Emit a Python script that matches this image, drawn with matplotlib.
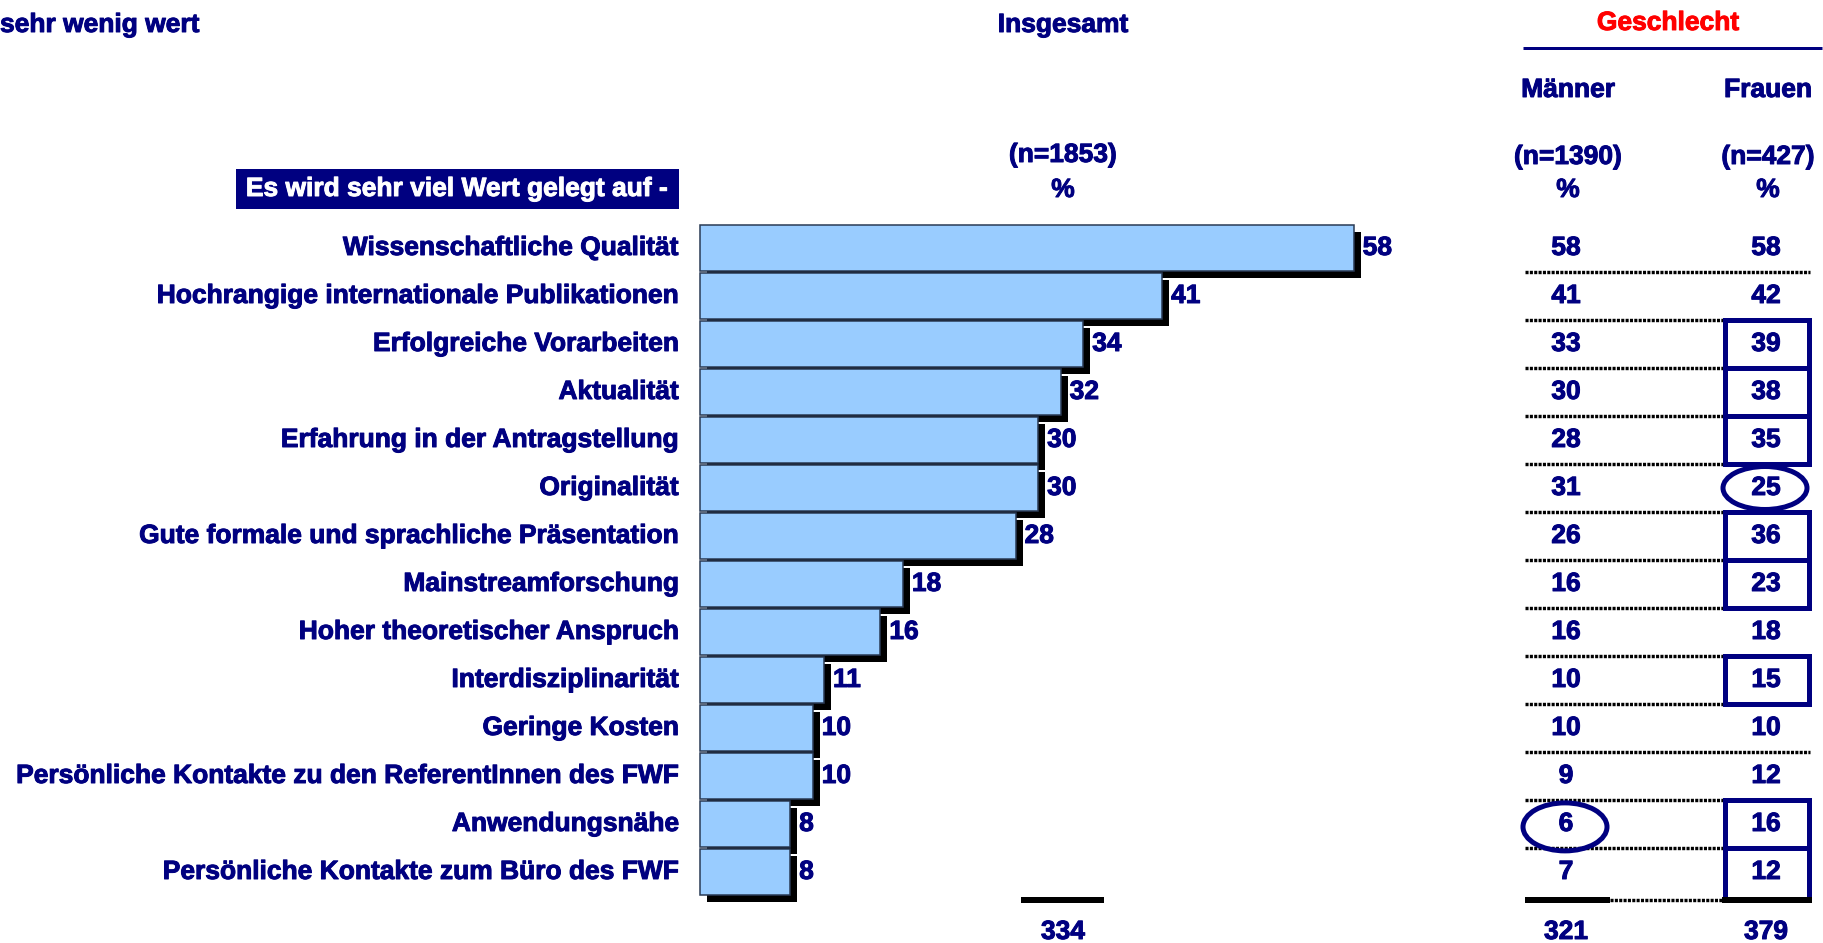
import matplotlib
matplotlib.use("Agg")
import matplotlib.pyplot as plt
from matplotlib.patches import Rectangle, Ellipse
from matplotlib.transforms import offset_copy
import matplotlib.patheffects as pe

# ---------------- data ----------------
categories = [
    "Wissenschaftliche Qualität",
    "Hochrangige internationale Publikationen",
    "Erfolgreiche Vorarbeiten",
    "Aktualität",
    "Erfahrung in der Antragstellung",
    "Originalität",
    "Gute formale und sprachliche Präsentation",
    "Mainstreamforschung",
    "Hoher theoretischer Anspruch",
    "Interdisziplinarität",
    "Geringe Kosten",
    "Persönliche Kontakte zu den ReferentInnen des FWF",
    "Anwendungsnähe",
    "Persönliche Kontakte zum Büro des FWF",
]
insgesamt = [58, 41, 34, 32, 30, 30, 28, 18, 16, 11, 10, 10, 8, 8]
maenner = [58, 41, 33, 30, 28, 31, 26, 16, 16, 10, 10, 9, 6, 7]
frauen = [58, 42, 39, 38, 35, 25, 36, 23, 18, 15, 10, 12, 16, 12]
sums = {"insgesamt": 334, "maenner": 321, "frauen": 379}
n_labels = {"insgesamt": "(n=1853)", "maenner": "(n=1390)", "frauen": "(n=427)"}
frauen_boxed = [2, 3, 4, 6, 7, 9, 12, 13]
frauen_circled = [5]
maenner_circled = [12]

# ---------------- layout ----------------
W, H = 1823, 943
DPI = 100
NAVY = "#000080"
RED = "#FF0000"
BARFILL = "#99CCFF"
FONT = "Liberation Sans"
FS = 19

ROW0, PITCH = 224, 48          # pixel top of first row, row pitch
BAR_X0, KPX = 700, 11.27       # pixel of value 0, pixels per percent
X_MEN, X_WOM, X_TOT = 1566, 1766, 1063

def row_of(py):
    return (py - ROW0) / PITCH - 0.5

ylim = (row_of(H), row_of(0))

fig = plt.figure(figsize=(W / DPI, H / DPI), dpi=DPI)

ax_p = fig.add_axes([0, 0, 1, 1])
ax_p.set_xlim(0, W)
ax_p.set_ylim(H, 0)
ax_p.axis("off")

ax_b = fig.add_axes([0, 0, 1, 1])
ax_b.set_xlim(-BAR_X0 / KPX, (W - BAR_X0) / KPX)
ax_b.set_ylim(*ylim)
ax_b.axis("off")

ax_t = fig.add_axes([0, 0, 1, 1])
ax_t.set_xlim(0, W)
ax_t.set_ylim(*ylim)
ax_t.axis("off")

def bold(color):
    return [pe.withStroke(linewidth=0.7, foreground=color)]

txt = dict(fontfamily=FONT, fontweight="bold", fontsize=FS, color=NAVY,
           path_effects=bold(NAVY))

# ---------------- bars ----------------
ypos = list(range(len(categories)))
shadow_tr = offset_copy(ax_b.transData, fig=fig, x=7, y=-7, units="dots")
ax_b.barh(ypos, insgesamt, height=0.97, color="black", edgecolor="none",
          transform=shadow_tr, zorder=1)
ax_b.barh(ypos, insgesamt, height=0.97, color=BARFILL, edgecolor="#2a3a55",
          linewidth=1.1, zorder=2)
lab_tr = offset_copy(ax_b.transData, fig=fig, x=9, y=0, units="dots")
for i, v in enumerate(insgesamt):
    ax_b.text(v, i, str(v), ha="left", va="center", transform=lab_tr, zorder=3, **txt)

for i, c in enumerate(categories):
    ax_t.text(679, i, c, ha="right", va="center", **txt)

# ---------------- table ----------------
for i in range(len(categories)):
    ax_t.text(X_MEN, i, str(maenner[i]), ha="center", va="center", zorder=5, **txt)
    ax_t.text(X_WOM, i, str(frauen[i]), ha="center", va="center", zorder=5, **txt)

dot_lw = 3.4 * 72 / DPI
dot_style = (0, (0.9, 0.38))
for i in range(len(categories) - 1):
    ax_t.plot([1525, 1810], [i + 0.5, i + 0.5], color="black", lw=dot_lw,
              linestyle=dot_style, dash_capstyle="butt", zorder=2)

yb = row_of(900)
ax_t.plot([1610, 1723], [yb, yb], color="black", lw=dot_lw,
          linestyle=dot_style, dash_capstyle="butt", zorder=2)
solid_lw = 6 * 72 / DPI
for x0, x1 in [(1525, 1610), (1722, 1812), (1021, 1104)]:
    ax_t.plot([x0, x1], [yb, yb], color="black", lw=solid_lw,
              solid_capstyle="butt", zorder=6)

box_lw = 5 * 72 / DPI
for i in frauen_boxed:
    h = 1.0 if i < len(categories) - 1 else (yb - (i - 0.5))
    ax_t.add_patch(Rectangle((1725, i - 0.5), 84, h, fill=False,
                             edgecolor=NAVY, linewidth=box_lw, zorder=4))
for i in frauen_circled:
    ax_t.add_patch(Ellipse((X_WOM - 1, i), 84, 43 / PITCH, fill=False,
                           edgecolor=NAVY, linewidth=box_lw, zorder=4))
for i in maenner_circled:
    ax_t.add_patch(Ellipse((X_MEN - 1, i + 0.06), 84, 48 / PITCH, fill=False,
                           edgecolor=NAVY, linewidth=box_lw, zorder=4))

ys = row_of(932)
ax_t.text(X_TOT, ys, str(sums["insgesamt"]), ha="center", va="center", **txt)
ax_t.text(X_MEN, ys, str(sums["maenner"]), ha="center", va="center", **txt)
ax_t.text(X_WOM, ys, str(sums["frauen"]), ha="center", va="center", **txt)

# ---------------- headers ----------------
ax_p.text(0, 25, "sehr wenig wert", ha="left", va="center", **txt)
ax_p.text(X_TOT, 25, "Insgesamt", ha="center", va="center", **txt)
ax_p.text(1668, 23, "Geschlecht", ha="center", va="center",
          fontfamily=FONT, fontweight="bold", fontsize=FS, color=RED,
          path_effects=bold(RED))
ax_p.plot([1523, 1822], [48, 48], color=NAVY, lw=3 * 72 / DPI, solid_capstyle="butt")
ax_p.text(X_MEN + 2, 90, "Männer", ha="center", va="center", **txt)
ax_p.text(X_WOM + 2, 90, "Frauen", ha="center", va="center", **txt)
ax_p.text(X_TOT, 155, n_labels["insgesamt"], ha="center", va="center", **txt)
ax_p.text(X_MEN + 2, 157, n_labels["maenner"], ha="center", va="center", **txt)
ax_p.text(X_WOM + 2, 157, n_labels["frauen"], ha="center", va="center", **txt)
for x in (X_TOT, X_MEN + 2, X_WOM + 2):
    ax_p.text(x, 190, "%", ha="center", va="center", **txt)

ax_p.add_patch(Rectangle((236, 169), 443, 40, facecolor=NAVY, edgecolor="none"))
ax_p.text(457, 189, "Es wird sehr viel Wert gelegt auf -", ha="center", va="center",
          fontfamily=FONT, fontweight="bold", fontsize=FS, color="white",
          path_effects=bold("white"))

fig.savefig("out.png", dpi=DPI)
